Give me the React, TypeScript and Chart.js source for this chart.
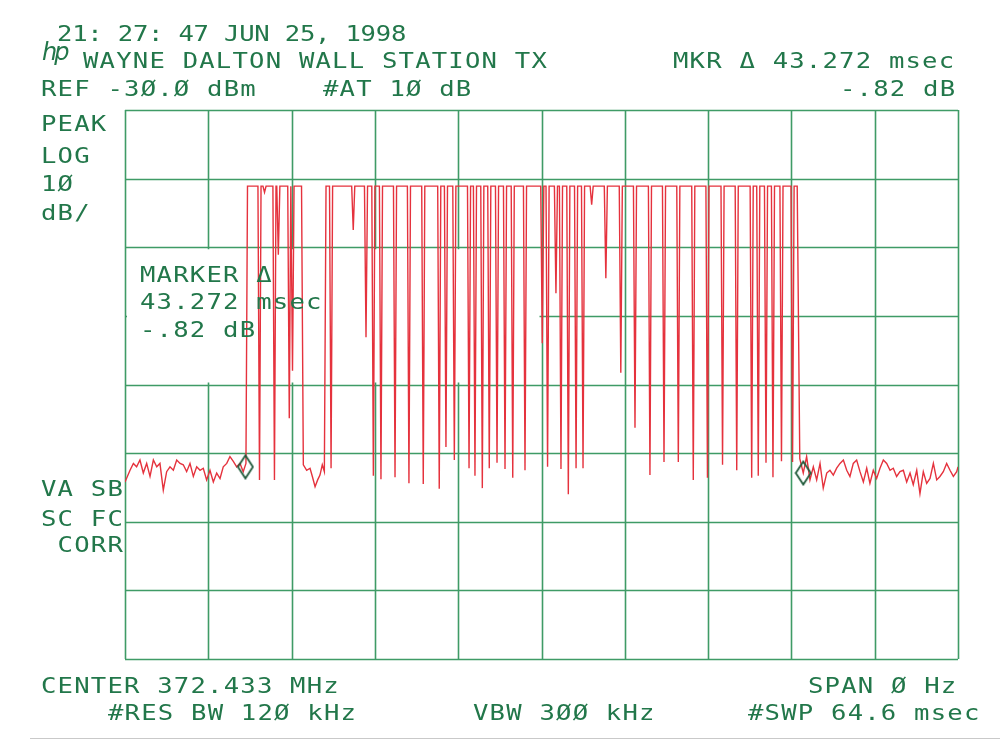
import React, { useEffect, useRef } from "react";
import { Chart, registerables } from "chart.js";

Chart.register(...registerables);

// ---- instrument settings ----
const sweepMs = 64.6;
const refLevelDbm = -30;
const dbPerDiv = 10;
const xDivisions = 10;
const yDivisions = 8;

// ---- trace: noise floor before the burst (time msec, level dBm) ----
const leftNoiseTime = [0.0, 0.39, 0.65, 0.9, 1.16, 1.42, 1.68, 1.94, 2.2, 2.46, 2.71, 2.97, 3.23, 3.49, 3.75, 4.01, 4.27, 4.52, 4.78, 5.04, 5.3, 5.56, 5.82, 6.07, 6.33, 6.59, 6.85, 7.11, 7.37, 7.62, 7.89, 8.14, 8.4, 8.66, 8.92, 9.17, 9.38];
const leftNoiseLevel = [-84.2, -82.5, -81.5, -82.0, -81.0, -82.9, -81.5, -83.4, -81.0, -82.0, -81.5, -85.4, -82.7, -82.0, -82.5, -81.0, -81.5, -81.7, -82.7, -81.5, -83.4, -82.0, -82.5, -82.2, -83.9, -82.5, -84.2, -82.9, -83.7, -82.0, -81.5, -80.5, -81.2, -82.0, -81.5, -82.7, -81.5];

// ---- noise in the gap between the two bursts ----
const gapNoiseTime = [13.83, 14.09, 14.35, 14.53, 14.74, 14.94, 15.12, 15.3, 15.46];
const gapNoiseLevel = [-81.7, -82.5, -82.2, -83.4, -84.9, -83.9, -83.2, -81.7, -82.7];

// ---- noise floor after the burst ----
const rightNoiseTime = [52.33, 52.6, 52.86, 53.12, 53.38, 53.64, 53.9, 54.15, 54.42, 54.67, 54.93, 55.19, 55.45, 55.71, 55.97, 56.22, 56.48, 56.74, 57.0, 57.26, 57.52, 57.77, 58.03, 58.29, 58.55, 58.81, 59.07, 59.33, 59.58, 59.84, 60.1, 60.36, 60.62, 60.88, 61.13, 61.4, 61.65, 61.91, 62.17, 62.43, 62.69, 62.95, 63.2, 63.46, 63.72, 63.98, 64.24, 64.5, 64.6];
const rightNoiseLevel = [-80.8, -82.9, -80.5, -83.9, -82.0, -83.9, -81.5, -85.1, -82.9, -82.5, -83.2, -82.2, -81.5, -81.0, -82.5, -83.4, -81.5, -81.0, -82.7, -84.2, -82.2, -84.4, -82.5, -83.7, -82.2, -81.0, -81.5, -82.5, -82.2, -83.4, -82.7, -82.5, -84.2, -82.9, -84.6, -82.5, -85.9, -82.7, -84.4, -83.7, -81.5, -83.9, -83.4, -82.7, -81.5, -82.5, -83.4, -82.7, -82.0];

// ---- burst envelope (carrier on) ----
const burstStart = [9.5, 15.59];
const burstEnd = [13.69, 52.13];
const burstTopDbm = -41.1;

// ---- modulation dips inside the bursts (time msec, bottom level dBm) ----
const dipTime = [10.43, 10.82, 11.59, 11.89, 12.74, 12.99, 15.98, 17.7, 18.69, 19.26, 19.85, 20.94, 22.02, 23.13, 24.37, 24.89, 25.54, 26.68, 27.14, 27.71, 28.25, 28.85, 29.47, 30.07, 31.02, 32.36, 32.77, 33.42, 33.81, 34.38, 34.98, 35.52, 36.19, 37.29, 38.45, 39.55, 40.71, 41.8, 42.91, 44.07, 45.17, 46.34, 47.44, 48.6, 49.11, 49.71, 50.25, 50.91, 51.77];
const dipLevel = [-83.9, -42.0, -83.9, -51.1, -74.9, -68.0, -82.2, -47.5, -63.1, -83.3, -83.8, -83.5, -84.4, -84.5, -85.2, -79.1, -81.0, -82.2, -83.3, -85.1, -82.2, -81.4, -82.3, -83.6, -82.5, -64.0, -82.0, -56.7, -82.3, -86.0, -82.2, -82.2, -43.8, -54.5, -68.3, -76.3, -83.2, -81.3, -81.3, -83.9, -83.6, -81.7, -82.5, -83.6, -83.3, -81.4, -83.5, -81.2, -81.3];
const dipHalfWidthMs = 0.12;

// ---- delta markers ----
const markerTime = [9.34, 52.6];
const markerLevel = [-82.0, -82.9];

const GRID = "#3f9b66";
const INK = "#22774a";
const TRACE = "#e5323d";

type Pt = { x: number; y: number };

function buildTrace(): Pt[] {
  const pts: Pt[] = [];
  leftNoiseTime.forEach((t, i) => pts.push({ x: t, y: leftNoiseLevel[i] }));
  gapNoiseTime.forEach((t, i) => pts.push({ x: t, y: gapNoiseLevel[i] }));
  rightNoiseTime.forEach((t, i) => pts.push({ x: t, y: rightNoiseLevel[i] }));
  burstStart.forEach((t, i) => {
    pts.push({ x: t, y: burstTopDbm });
    pts.push({ x: burstEnd[i], y: burstTopDbm });
  });
  dipTime.forEach((t, i) => {
    pts.push({ x: t - dipHalfWidthMs, y: burstTopDbm });
    pts.push({ x: t, y: dipLevel[i] });
    pts.push({ x: t + dipHalfWidthMs, y: burstTopDbm });
  });
  return pts.sort((a, b) => a.x - b.x);
}

function makeDiamond(): HTMLCanvasElement {
  const c = document.createElement("canvas");
  c.width = 18;
  c.height = 26;
  const g = c.getContext("2d")!;
  g.strokeStyle = "#1f5a3a";
  g.lineWidth = 1.8;
  g.beginPath();
  g.moveTo(9, 1.5);
  g.lineTo(16.5, 13);
  g.lineTo(9, 24.5);
  g.lineTo(1.5, 13);
  g.closePath();
  g.stroke();
  return c;
}

const gridPlugin = {
  id: "saGrid",
  beforeDatasetsDraw(chart: any) {
    const { ctx, chartArea: a, scales } = chart;
    const xs = scales.x;
    const ys = scales.y;
    ctx.save();
    ctx.strokeStyle = GRID;
    ctx.lineWidth = 1.6;
    for (let i = 0; i <= xDivisions; i++) {
      const px = Math.round(xs.getPixelForValue((i * sweepMs) / xDivisions)) + 0.5;
      ctx.beginPath();
      ctx.moveTo(px, a.top);
      ctx.lineTo(px, a.bottom);
      ctx.stroke();
    }
    for (let j = 0; j <= yDivisions; j++) {
      const py = Math.round(ys.getPixelForValue(refLevelDbm - j * dbPerDiv)) + 0.5;
      ctx.beginPath();
      ctx.moveTo(a.left, py);
      ctx.lineTo(a.right, py);
      ctx.stroke();
    }
    // the analyzer blanks the graticule behind the marker read-out
    const bx0 = xs.getPixelForValue(0) + 2;
    const bx1 = xs.getPixelForValue((5 * sweepMs) / xDivisions) - 2;
    const by0 = ys.getPixelForValue(refLevelDbm - 2 * dbPerDiv) + 2;
    const by1 = ys.getPixelForValue(refLevelDbm - 4 * dbPerDiv) - 2;
    ctx.fillStyle = "#ffffff";
    ctx.fillRect(bx0, by0, bx1 - bx0, by1 - by0);
    ctx.restore();
  },
};

type Label = { t: string; x: number; b: number; ls?: number };

const FS = 21;
const SX = 1.22;

export default function App() {
  const ref = useRef<HTMLCanvasElement>(null);

  useEffect(() => {
    if (!ref.current) return;
    const chart = new Chart(ref.current, {
      type: "line",
      data: {
        datasets: [
          {
            label: "markers",
            data: markerTime.map((t, i) => ({ x: t, y: markerLevel[i] })),
            showLine: false,
            pointStyle: makeDiamond() as any,
            pointRadius: 10,
            borderColor: "#1f5a3a",
            backgroundColor: "rgba(0,0,0,0)",
          },
          {
            label: "trace",
            data: buildTrace(),
            borderColor: TRACE,
            borderWidth: 1.4,
            pointRadius: 0,
            tension: 0,
            fill: false,
          },
        ],
      },
      options: {
        animation: false,
        responsive: false,
        maintainAspectRatio: false,
        layout: { padding: { left: 125, right: 42, top: 110, bottom: 95 } },
        plugins: { legend: { display: false }, tooltip: { enabled: false } },
        events: [],
        scales: {
          x: { type: "linear", min: 0, max: sweepMs, display: false },
          y: { type: "linear", min: refLevelDbm - yDivisions * dbPerDiv, max: refLevelDbm, display: false },
        },
      },
      plugins: [gridPlugin],
    });
    return () => chart.destroy();
  }, []);

  const labels: Label[] = [
    { t: "21: 27: 47 JUN 25, 1998", x: 57, b: 42, ls: -0.2 },
    { t: "WAYNE DALTON WALL STATION TX", x: 83, b: 69 },
    { t: "MKR Δ 43.272 msec", x: 673, b: 69 },
    { t: "REF -3Ø.Ø dBm", x: 41, b: 96.5 },
    { t: "#AT 1Ø dB", x: 323, b: 96.5 },
    { t: "-.82 dB", x: 840, b: 96.5 },
    { t: "PEAK", x: 41, b: 131.5 },
    { t: "LOG", x: 41, b: 163.5 },
    { t: "1Ø", x: 41, b: 191.5 },
    { t: "dB/", x: 41, b: 221 },
    { t: "MARKER Δ", x: 140, b: 283 },
    { t: "43.272 msec", x: 140, b: 310 },
    { t: "-.82 dB", x: 140, b: 338 },
    { t: "VA SB", x: 41, b: 497 },
    { t: "SC FC", x: 41, b: 527 },
    { t: " CORR", x: 41, b: 553 },
    { t: "CENTER 372.433 MHz", x: 41, b: 694 },
    { t: "SPAN Ø Hz", x: 808, b: 694 },
    { t: "#RES BW 12Ø kHz", x: 108, b: 721 },
    { t: "VBW 3ØØ kHz", x: 473, b: 721 },
    { t: "#SWP 64.6 msec", x: 748, b: 721 },
  ];

  return (
    <div
      style={{
        position: "absolute",
        left: 0,
        top: 0,
        width: 1000,
        height: 754,
        background: "#ffffff",
        overflow: "hidden",
        fontFamily: '"DejaVu Sans Mono", "Liberation Mono", monospace',
      }}
    >
      <canvas ref={ref} width={1000} height={754} style={{ position: "absolute", left: 0, top: 0, width: 1000, height: 754 }} />
      <div
        style={{
          position: "absolute",
          left: 42,
          top: 40,
          fontFamily: '"DejaVu Sans", sans-serif',
          fontStyle: "italic",
          fontSize: 24,
          lineHeight: "24px",
          letterSpacing: -3,
          color: INK,
        }}
      >
        hp
      </div>
      {labels.map((l, i) => (
        <div
          key={i}
          style={{
            position: "absolute",
            left: l.x,
            top: l.b - 0.846 * FS,
            fontSize: FS,
            lineHeight: 1,
            letterSpacing: l.ls ?? 0.97,
            whiteSpace: "pre",
            color: INK,
            transform: `scaleX(${SX})`,
            transformOrigin: "0 0",
          }}
        >
          {l.t}
        </div>
      ))}
      <div style={{ position: "absolute", left: 30, top: 738, width: 970, height: 1, background: "#c9c9c9" }} />
    </div>
  );
}
